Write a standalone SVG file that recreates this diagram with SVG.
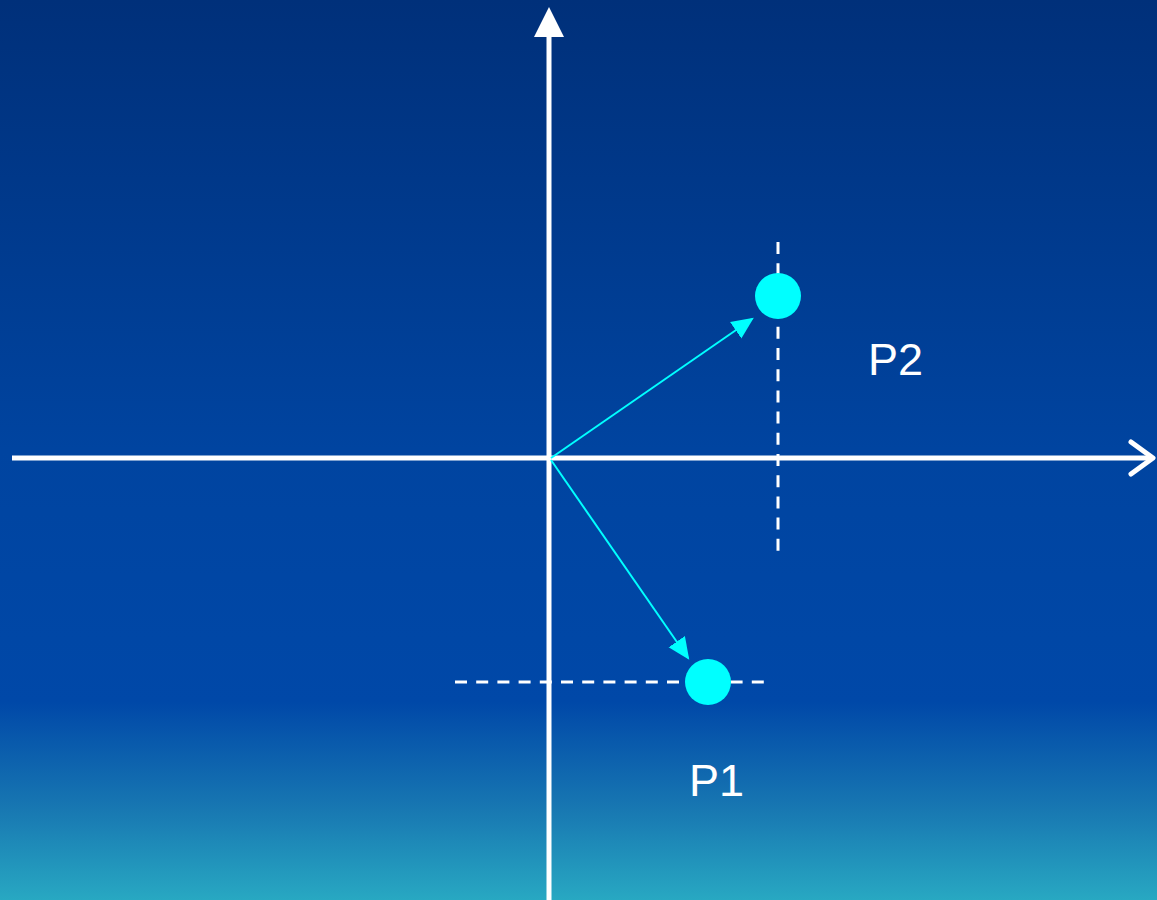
<svg xmlns="http://www.w3.org/2000/svg" width="1157" height="900" viewBox="0 0 1157 900">
<style>
.axis{stroke:#ffffff;stroke-width:5;fill:none}
.guide{stroke:#ffffff;stroke-width:3;stroke-dasharray:12 9.2;fill:none}
.vec{stroke:#00ffff;stroke-width:2;fill:none}
.pt{fill:#00ffff}
.lbl{font-family:"Liberation Sans",Arial,sans-serif;font-size:45px;fill:#ffffff}
</style>
<defs>
<linearGradient id="bg" x1="0" y1="0" x2="0" y2="1">
<stop offset="0" stop-color="#00307a"/>
<stop offset="0.5" stop-color="#0044a0"/>
<stop offset="0.78" stop-color="#0048a8"/>
<stop offset="0.9" stop-color="#1878b2"/>
<stop offset="1" stop-color="#28a8c2"/>
</linearGradient>
<marker id="cyanArrowBig" viewBox="0 0 10 10" refX="9" refY="5" markerWidth="22" markerHeight="22" markerUnits="userSpaceOnUse" orient="auto">
<path d="M0,0.5 L10,5 L0,9.5 z" fill="#00ffff"/>
</marker>
</defs>
<rect x="0" y="0" width="1157" height="900" fill="url(#bg)"/>
<g id="axes">
<line class="axis" x1="12" y1="458" x2="1152" y2="458"/>
<polyline class="axis" points="1131,442 1153,458 1131,474" stroke-linecap="round" stroke-linejoin="round"/>
<line class="axis" x1="549" y1="900" x2="549" y2="34"/>
<polygon points="549,7 534,37 564,37" fill="#ffffff"/>
</g>
<g id="guides">
<line class="guide" x1="778" y1="242" x2="778" y2="551"/>
<line class="guide" x1="455" y1="682" x2="764" y2="682"/>
</g>
<g id="connectors">
<line class="vec" x1="551" y1="458" x2="752" y2="319" marker-end="url(#cyanArrowBig)"/>
<line class="vec" x1="551" y1="460" x2="688" y2="658" marker-end="url(#cyanArrowBig)"/>
</g>
<g id="p2">
<circle class="pt" cx="778" cy="296" r="23"/>
<text class="lbl" x="868" y="375">P2</text>
</g>
<g id="p1">
<circle class="pt" cx="708" cy="682" r="23"/>
<text class="lbl" x="689" y="796">P1</text>
</g>
</svg>
